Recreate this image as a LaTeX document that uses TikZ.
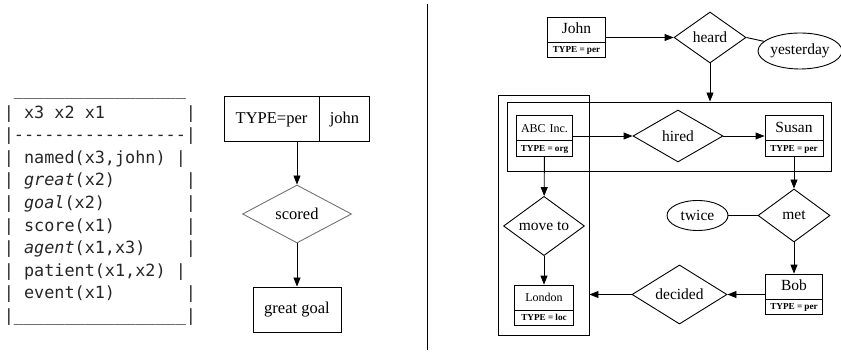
\documentclass[tikz,border=0pt]{standalone}
\usepackage{fontspec}
\setmainfont{Liberation Serif}
\newfontfamily\drsfont[WordSpace={1,0,0}]{DejaVu Sans Mono}
\usetikzlibrary{arrows.meta,shapes.geometric,shapes.multipart}

% upper and lower part of an entity record
\newcommand{\entname}[1]{\rule[-8pt]{0pt}{24pt}#1}
\newcommand{\enttype}[1]{\rule[-4.5pt]{0pt}{15pt}{\fontsize{9.2}{9}\selectfont\bfseries TYPE\hspace{2.2pt}=\hspace{2.2pt}#1}}
\newcommand{\drsbar}{\_\_\_\_\_\_\_\_\_\_\_\_\_\_\_\_\_}

\begin{document}
\begin{tikzpicture}[x=1pt,y=-1pt,line width=0.9pt,>={Triangle[length=9pt,width=7pt]},
  lbl/.style={font=\fontsize{15.5}{18}\selectfont},
  box/.style={draw,inner sep=0pt,font=\fontsize{16.5}{18}\selectfont},
  rel/.style={draw,diamond,inner sep=0pt,lbl},
  mod/.style={draw,ellipse,inner sep=0pt,lbl},
  ent/.style={draw,rectangle split,rectangle split parts=2,inner xsep=0pt,inner ysep=0pt,text width=#1,align=center,lbl},
  cluster/.style={draw,inner sep=0pt},
  drsline/.style={anchor=base west,inner sep=0pt,text=black!85,font=\drsfont\fontsize{16.8}{16.8}\selectfont}]
  \useasboundingbox (0,0) rectangle (841,352);

  % DRS in box notation
  \foreach \row [count=\i from 0] in {{~\drsbar},{|~x3~x2~x1~~~~~~~~|},{|-----------------|},
      {|~named(x3,john)~|},{|~\textit{great}(x2)~~~~~~~|},{|~\textit{goal}(x2)~~~~~~~~|},
      {|~score(x1)~~~~~~~|},{|~\textit{agent}(x1,x3)~~~~|},{|~patient(x1,x2)~|},
      {|~event(x1)~~~~~~~|},{|\drsbar|}}
    \node[drsline] (drs-\i) at (3.4,95.5+22.6*\i) {\row};

  % the same DRS as a small graph
  \node[box,rectangle split,rectangle split horizontal,rectangle split parts=2] (johnrec) at (297,118.5)
    {\rule[-17pt]{0pt}{45pt}\makebox[94pt]{TYPE=per}\nodepart{two}\rule[-17pt]{0pt}{45pt}\makebox[50pt]{john}};
  \node[box,diamond,draw=black!55,minimum width=109,minimum height=58] (scored) at (297,214) {scored};
  \node[box,minimum width=88,minimum height=45] (goal) at (297,309.5) {great goal};
  \draw[->] (johnrec.south) -- (scored.north);
  \draw[->] (scored) -- (goal);

  \draw (427,4) -- (427,350);

  % clusters
  \node[cluster,minimum width=91,minimum height=240] (vcl) at (543.5,215) {};
  \node[cluster,minimum width=324,minimum height=69] (hcl) at (669,136.5) {};

  % entities and relations
  \node[ent=58pt] (john) at (576.5,37.5) {\entname{John}\nodepart{two}\enttype{per}};
  \node[rel,minimum width=72,minimum height=51] (heard) at (710,37.5) {heard};
  \node[mod,minimum width=74,minimum height=36] (yesterday) at (800,51) {yesterday};
  \node[ent=56pt,font=\fontsize{12}{14}\selectfont] (abc) at (544.5,136) {\entname{ABC Inc.}\nodepart{two}\enttype{org}};
  \node[rel,minimum width=90,minimum height=52] (hired) at (678,136) {hired};
  \node[ent=58pt] (susan) at (794,136) {\entname{Susan}\nodepart{two}\enttype{per}};
  \node[rel,minimum width=72,minimum height=53] (met) at (794,215.5) {met};
  \node[mod,minimum width=61,minimum height=30] (twice) at (697.5,215.5) {twice};
  \node[rel,minimum width=81,minimum height=52] (move) at (544,226) {move to};
  \node[ent=59pt,font=\fontsize{12}{14}\selectfont] (london) at (544,305.5) {\entname{London}\nodepart{two}\enttype{loc}};
  \node[ent=57pt] (bob) at (794,294.5) {\entname{Bob}\nodepart{two}\enttype{per}};
  \node[rel,minimum width=95,minimum height=52] (decided) at (679.5,294.5) {decided};

  \draw[->] (john) -- (heard);
  \draw (heard.east) -- (yesterday.165);
  \draw[->] (heard.south) -- (heard.south |- hcl.north);
  \draw[->] (abc) -- (hired);
  \draw[->] (hired) -- (susan);
  \draw[->] (susan) -- (met);
  \draw (twice) -- (met);
  \draw[->] (met) -- (bob);
  \draw[->] (bob) -- (decided);
  \draw[->] (decided.west) -- (decided.west -| vcl.east);
  \draw[->] (abc) -- (move);
  \draw[->] (move) -- (london);
\end{tikzpicture}
\end{document}
